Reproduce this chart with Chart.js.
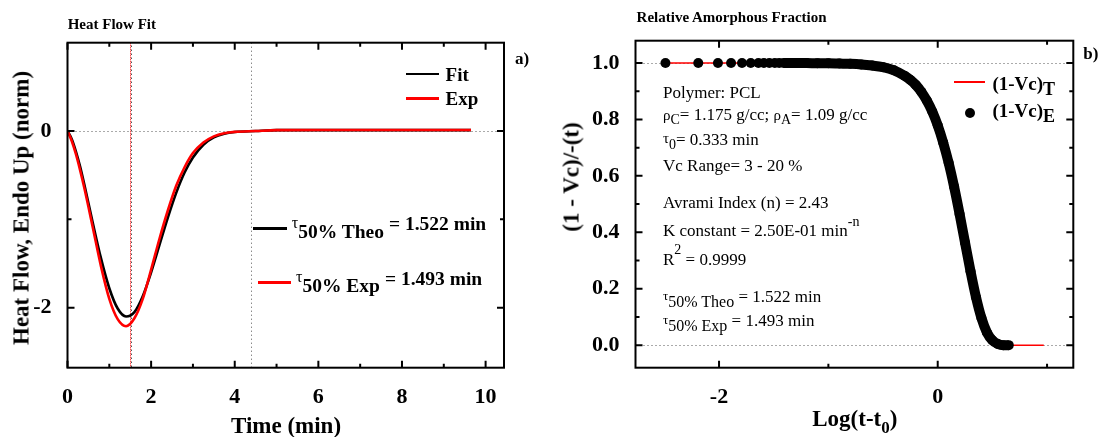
<!DOCTYPE html>
<html>
<head>
<meta charset="utf-8">
<script src="https://cdn.jsdelivr.net/npm/chart.js@4.4.0/dist/chart.umd.min.js"></script>
<style>
  html, body { margin: 0; padding: 0; background: #fff; }
  body { width: 1104px; height: 437px; position: relative; overflow: hidden;
         font-family: "Liberation Serif", "Times New Roman", serif; color: #000; }
  canvas { position: absolute; top: 0; }
  .run { position: absolute; line-height: 1; white-space: pre; }
  .vtitle { position: absolute; line-height: 1; white-space: pre; font-weight: bold; font-size: 23px;
            transform: translate(-50%, -50%) rotate(-90deg); }
  .seg { position: absolute; }
  .dot { position: absolute; border-radius: 50%; background: #000; }
</style>
</head>
<body>
<canvas id="heatChart" width="552" height="437" style="left:0"></canvas>
<canvas id="fracChart" width="552" height="437" style="left:552px"></canvas>

<script>
// ---- panel a) heat flow fit ----
const timeMin = [0, 0.1, 0.2, 0.3, 0.4, 0.6, 0.8, 1.0, 1.2, 1.4, 1.6, 1.8, 2.0, 2.2, 2.4, 2.6, 2.8, 3.0, 3.25, 3.5, 3.75, 4.0, 4.5, 5, 6, 7, 8, 9, 9.65];
const heatFit = [0, -0.09, -0.23, -0.40, -0.60, -1.03, -1.44, -1.78, -2.01, -2.10, -2.05, -1.87, -1.60, -1.29, -0.98, -0.70, -0.47, -0.30, -0.155, -0.072, -0.031, -0.012, 0.0, 0.01, 0.01, 0.01, 0.01, 0.01, 0.01];
const heatExp = [0, -0.11, -0.26, -0.44, -0.64, -1.08, -1.53, -1.90, -2.13, -2.21, -2.12, -1.90, -1.57, -1.22, -0.90, -0.62, -0.41, -0.25, -0.13, -0.06, -0.025, -0.01, 0.0, 0.01, 0.012, 0.012, 0.012, 0.012, 0.012];
const tau50Theo = 1.522;
const tau50Exp = 1.493;
const fitEnd = 4.39;
const heatXTicks = [0, 2, 4, 6, 8, 10];
const heatXMinor = [1, 3, 5, 7, 9];
const heatYTicks = [-2, 0];
const heatYMinor = [-1];

// ---- panel b) relative amorphous fraction ----
const logT = [-2.49, -2.19, -2.01, -1.89, -1.79, -1.71, -1.64, -1.59, -1.54, -1.49, -1.45, -1.41, -1.38, -1.35, -1.29, -1.2, -1.1, -1.0, -0.9, -0.8, -0.7, -0.6, -0.5, -0.4, -0.3, -0.25, -0.2, -0.15, -0.1, -0.05, 0, 0.05, 0.1, 0.15, 0.2, 0.25, 0.3, 0.35, 0.4, 0.45, 0.5, 0.55, 0.6, 0.65];
const fracExp = [1.0, 1.0, 1.0, 1.0, 1.0, 1.0, 1.0, 1.0, 1.0, 1.0, 1.0, 1.0, 1.0, 1.0, 1.0, 1.0, 0.999, 0.999, 0.998, 0.997, 0.995, 0.991, 0.985, 0.974, 0.954, 0.94, 0.922, 0.898, 0.867, 0.828, 0.779, 0.718, 0.646, 0.561, 0.465, 0.363, 0.262, 0.17, 0.096, 0.045, 0.017, 0.004, 0.0, 0.0];
const logTFit = [-2.49, -1.5, -1.0, -0.6, -0.4, -0.2, 0, 0.1, 0.2, 0.3, 0.4, 0.5, 0.6, 0.7, 0.97];
const fracFit = [1.0, 1.0, 0.999, 0.991, 0.974, 0.922, 0.779, 0.646, 0.465, 0.262, 0.096, 0.017, 0.001, 0.0, 0.0];
const logXTicks = [-2, 0];
const logXMinor = [-1, 1];
const fracYTicks = [0, 0.2, 0.4, 0.6, 0.8, 1.0];
const fracYMinor = [0.1, 0.3, 0.5, 0.7, 0.9];

const SERIF = '"Liberation Serif", "Times New Roman", serif';

function pairs(xs, ys) {
    return xs.map((x, i) => ({ x: x, y: ys[i] }));
}

// dotted reference lines behind the data
const refLines = {
    id: 'refLines',
    beforeDatasetsDraw(chart, args, opts) {
        const { ctx, chartArea: a, scales: { x, y } } = chart;
        ctx.save();
        ctx.lineWidth = 1;
        (opts.h || []).forEach(l => {
            const py = Math.round(y.getPixelForValue(l.v)) + 0.5;
            ctx.strokeStyle = l.color;
            ctx.setLineDash(l.dash);
            ctx.beginPath();
            ctx.moveTo(a.left, py);
            ctx.lineTo(a.right, py);
            ctx.stroke();
        });
        (opts.v || []).forEach(l => {
            const px = Math.round(x.getPixelForValue(l.v)) + 0.5;
            ctx.strokeStyle = l.color;
            ctx.setLineDash(l.dash);
            ctx.lineDashOffset = l.offset || 0;
            ctx.beginPath();
            ctx.moveTo(px, a.top);
            ctx.lineTo(px, a.bottom);
            ctx.stroke();
        });
        ctx.restore();
    }
};

// Origin-style frame with inward ticks on all four sides
const frameTicks = {
    id: 'frameTicks',
    afterDatasetsDraw(chart, args, opts) {
        const { ctx, chartArea: a, scales: { x, y } } = chart;
        ctx.save();
        ctx.strokeStyle = '#000';
        ctx.lineWidth = 2;
        ctx.strokeRect(a.left, a.top, a.right - a.left, a.bottom - a.top);
        ctx.beginPath();
        const xt = (vals, len) => vals.forEach(v => {
            const px = x.getPixelForValue(v);
            ctx.moveTo(px, a.bottom); ctx.lineTo(px, a.bottom - len);
            ctx.moveTo(px, a.top); ctx.lineTo(px, a.top + len);
        });
        const yt = (vals, len) => vals.forEach(v => {
            const py = y.getPixelForValue(v);
            ctx.moveTo(a.left, py); ctx.lineTo(a.left + len, py);
            ctx.moveTo(a.right, py); ctx.lineTo(a.right - len, py);
        });
        xt(opts.xMajor, 7); xt(opts.xMinor, 4);
        yt(opts.yMajor, 7); yt(opts.yMinor, 4);
        ctx.stroke();
        ctx.restore();
    }
};

function axis(min, max, tickVals, fmt, fit) {
    return {
        type: 'linear', min: min, max: max,
        grid: { display: false }, border: { display: false },
        afterBuildTicks: s => { s.ticks = tickVals.map(v => ({ value: v })); },
        afterFit: fit,
        ticks: {
            autoSkip: false, maxRotation: 0, padding: 8, color: '#000',
            font: { family: SERIF, size: 22, weight: 'bold', lineHeight: 1.2 },
            callback: fmt
        }
    };
}

new Chart(document.getElementById('heatChart'), {
    type: 'line',
    data: {
        datasets: [
            { label: 'Exp', data: pairs(timeMin, heatExp), borderColor: '#ff0000', borderWidth: 2.6,
              pointRadius: 0, cubicInterpolationMode: 'monotone' },
            { label: 'Fit', data: pairs(timeMin, heatFit), borderColor: '#000', borderWidth: 2.6,
              pointRadius: 0, cubicInterpolationMode: 'monotone' }
        ]
    },
    options: {
        responsive: false, animation: false, devicePixelRatio: 1,
        layout: { padding: { left: 0, top: 42.7, right: 48, bottom: 0 } },
        scales: {
            x: axis(0, 10.44, heatXTicks, v => String(v), s => { s.height = 69.3; }),
            y: axis(-2.68, 1.0, heatYTicks, v => String(v), s => { s.width = 67.5; })
        },
        plugins: {
            legend: { display: false }, tooltip: { enabled: false },
            refLines: {
                h: [{ v: 0, color: '#555', dash: [1, 3] }],
                v: [{ v: fitEnd, color: '#555', dash: [1, 3] },
                    { v: tau50Exp, color: '#ff0000', dash: [1, 1] },
                    { v: tau50Theo, color: '#000', dash: [1, 3], offset: 1 }]
            },
            frameTicks: { xMajor: heatXTicks, xMinor: heatXMinor, yMajor: heatYTicks, yMinor: heatYMinor }
        }
    },
    plugins: [refLines, frameTicks]
});

new Chart(document.getElementById('fracChart'), {
    type: 'line',
    data: {
        datasets: [
            { label: '(1-Vc)E', data: pairs(logT, fracExp), borderWidth: 10,
              borderColor: '#000', borderJoinStyle: 'round',
              segment: { borderColor: c => c.p0.parsed.x >= -1.42 ? '#000' : 'rgba(0,0,0,0)' },
              pointRadius: 5, pointBackgroundColor: '#000', pointBorderWidth: 0,
              cubicInterpolationMode: 'monotone' },
            { label: '(1-Vc)T', data: pairs(logTFit, fracFit), borderColor: '#ff0000', borderWidth: 1.5,
              pointRadius: 0, cubicInterpolationMode: 'monotone' }
        ]
    },
    options: {
        responsive: false, animation: false, devicePixelRatio: 1,
        layout: { padding: { left: 0, top: 40.7, right: 30.7, bottom: 0 } },
        scales: {
            x: axis(-2.764, 1.24, logXTicks, v => String(v), s => { s.height = 69.3; }),
            y: axis(-0.08, 1.079, fracYTicks, v => v.toFixed(1), s => { s.width = 83.5; })
        },
        plugins: {
            legend: { display: false }, tooltip: { enabled: false },
            refLines: {
                h: [{ v: 1.0, color: '#555', dash: [1, 3] }, { v: 0.0, color: '#555', dash: [1, 3] }]
            },
            frameTicks: { xMajor: logXTicks, xMinor: logXMinor, yMajor: fracYTicks, yMinor: fracYMinor }
        }
    },
    plugins: [refLines, frameTicks]
});

// ---- text overlays (runs placed on a baseline) ----
function addText(x, base, runs, center) {
    let cx = x;
    const made = [];
    runs.forEach(r => {
        const s = document.createElement('span');
        s.className = 'run';
        s.textContent = r.t;
        s.style.fontSize = r.s + 'px';
        s.style.fontWeight = r.b ? 'bold' : 'normal';
        cx += r.gap || 0;
        s.style.left = cx + 'px';
        s.style.top = (base + (r.dy || 0) - 0.8375 * r.s) + 'px';
        document.body.appendChild(s);
        cx += s.getBoundingClientRect().width;
        made.push(s);
    });
    if (center) {
        const shift = (cx - x) / 2;
        made.forEach(s => { s.style.left = (parseFloat(s.style.left) - shift) + 'px'; });
    }
}

function addSeg(x1, x2, y, color, w) {
    const d = document.createElement('div');
    d.className = 'seg';
    d.style.left = x1 + 'px';
    d.style.top = (y - w / 2) + 'px';
    d.style.width = (x2 - x1) + 'px';
    d.style.height = w + 'px';
    d.style.background = color;
    document.body.appendChild(d);
}

function addVTitle(text, cx, cy) {
    const d = document.createElement('div');
    d.className = 'vtitle';
    d.textContent = text;
    d.style.left = cx + 'px';
    d.style.top = cy + 'px';
    document.body.appendChild(d);
}

// panel a
addText(67.7, 30, [{ t: 'Heat Flow Fit', s: 15, b: 1 }]);
addText(515, 64, [{ t: 'a)', s: 17, b: 1 }]);
addSeg(406, 439, 74, '#000', 2.5);
addText(445.6, 81, [{ t: 'Fit', s: 19, b: 1 }]);
addSeg(406, 439, 98.7, '#ff0000', 2.5);
addText(445.6, 105, [{ t: 'Exp', s: 19, b: 1 }]);
addSeg(253, 287, 228.3, '#000', 2.5);
addText(291.7, 228.3, [{ t: 'τ', s: 16 }, { t: '50% Theo', s: 19.5, b: 1, dy: 10 },
                       { t: '= 1.522 min', s: 19.5, b: 1, dy: 2.4, gap: 5 }]);
addSeg(258, 291, 282.7, '#ff0000', 2.5);
addText(296, 282.7, [{ t: 'τ', s: 16 }, { t: '50% Exp', s: 19.5, b: 1, dy: 10 },
                     { t: '= 1.493 min', s: 19.5, b: 1, dy: 2.4, gap: 5 }]);
addText(286, 433, [{ t: 'Time (min)', s: 23, b: 1 }], true);
addVTitle('Heat Flow, Endo Up (norm)', 21.2, 207.5);

// panel b
addText(636.6, 22.7, [{ t: 'Relative Amorphous Fraction', s: 15, b: 1 }]);
addText(1083.3, 59.3, [{ t: 'b)', s: 17, b: 1 }]);
addSeg(954, 984.6, 82, '#ff0000', 1.6);
addText(992.4, 90, [{ t: '(1-Vc)', s: 19, b: 1 }, { t: 'T', s: 18, b: 1, dy: 5 }]);
const dot = document.createElement('div');
dot.className = 'dot';
dot.style.cssText = 'left:964.8px;top:108px;width:10px;height:10px;';
document.body.appendChild(dot);
addText(992.4, 116.7, [{ t: '(1-Vc)', s: 19, b: 1 }, { t: 'E', s: 18, b: 1, dy: 5 }]);

addText(663, 98.3, [{ t: 'Polymer: PCL', s: 17 }]);
addText(663, 120, [{ t: 'ρ', s: 15, dy: 1 }, { t: 'C', s: 14, dy: 5 }, { t: '= 1.175 g/cc; ', s: 17 },
                   { t: 'ρ', s: 15, dy: 1 }, { t: 'A', s: 14, dy: 5 }, { t: '= 1.09 g/cc', s: 17 }]);
addText(663, 145, [{ t: 'τ', s: 15, dy: -1.7 }, { t: '0', s: 14, dy: 5 }, { t: '= 0.333 min', s: 17 }]);
addText(663, 171.7, [{ t: 'Vc Range= 3 - 20 %', s: 17 }]);
addText(663, 208.3, [{ t: 'Avrami Index (n) = 2.43', s: 17 }]);
addText(663, 236.7, [{ t: 'K constant = 2.50E-01 min', s: 17 }, { t: '-n', s: 14, dy: -10 }]);
addText(663, 265, [{ t: 'R', s: 17 }, { t: '2', s: 14, dy: -10 }, { t: ' = 0.9999', s: 17 }]);
addText(663, 302.7, [{ t: 'τ', s: 13, dy: -3 }, { t: '50% Theo', s: 16, dy: 4.5 }, { t: ' = 1.522 min', s: 17 }]);
addText(663, 326.7, [{ t: 'τ', s: 13, dy: -3 }, { t: '50% Exp', s: 16, dy: 4.5 }, { t: ' = 1.493 min', s: 17 }]);
addText(854.8, 426, [{ t: 'Log(t-t', s: 23, b: 1 }, { t: '0', s: 17, b: 1, dy: 7 }, { t: ')', s: 23, b: 1 }], true);
addVTitle('(1 - Vc)/-(t)', 570.8, 176.7);
</script>
</body>
</html>
